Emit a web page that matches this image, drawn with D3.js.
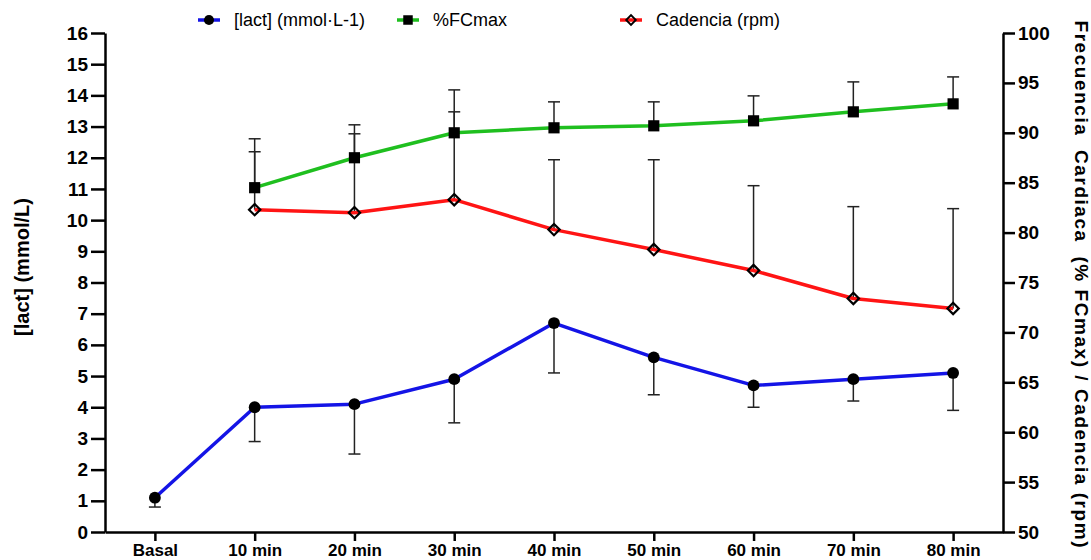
<!DOCTYPE html>
<html lang="es">
<head>
  <meta charset="UTF-8">
  <title>[lact], %FCmax y cadencia</title>
  <script src="https://cdnjs.cloudflare.com/ajax/libs/d3/7.8.5/d3.min.js"></script>
  <style>
    body { margin: 0; background: #fff; }
    svg { display: block; font-family: Arial, "Liberation Sans", sans-serif; }
    .axis path, .axis line { stroke: #000; stroke-width: 2.5; }
    .axis text { font-size: 19px; font-weight: bold; fill: #000; }
    .xaxis text { font-size: 17px; }
    .err { stroke: #222; stroke-width: 1.5; fill: none; }
  </style>
</head>
<body>
<svg id="chart" width="1091" height="560"></svg>
<script>
  // categories (time points)
  const categories = ["Basal", "10 min", "20 min", "30 min", "40 min", "50 min", "60 min", "70 min", "80 min"];

  // [lact] mmol/L, mean and SD (drawn downward)
  const lact   = [1.1, 4.0, 4.1, 4.9, 6.7, 5.6, 4.7, 4.9, 5.1];
  const lactSD = [0.3, 1.1, 1.6, 1.4, 1.6, 1.2, 0.7, 0.7, 1.2];

  // %FCmax, mean and SD (drawn upward) - right axis
  const fc   = [null, 84.5, 87.5, 90.0, 90.5, 90.7, 91.2, 92.1, 92.9];
  const fcSD = [null, 3.6, 2.4, 2.1, 2.6, 2.4, 2.5, 3.0, 2.7];

  // Cadencia (rpm), mean and SD (drawn upward) - right axis
  const cad   = [null, 82.3, 82.0, 83.3, 80.3, 78.3, 76.2, 73.4, 72.4];
  const cadSD = [null, 7.1, 8.8, 11.0, 7.0, 9.0, 8.5, 9.2, 10.0];

  const leftTicks  = d3.range(0, 17, 1);
  const rightTicks = d3.range(50, 101, 5);

  const svg = d3.select("#chart");
  const plotLeft = 105, plotRight = 1003, plotTop = 33, plotBottom = 532;

  const x = d3.scalePoint().domain(categories).range([plotLeft, plotRight]).padding(0.5);
  const yL = d3.scaleLinear().domain([0, 16]).range([plotBottom, plotTop]);
  const yR = d3.scaleLinear().domain([50, 100]).range([plotBottom, plotTop]);

  // axes
  svg.append("g").attr("class", "axis")
    .attr("transform", `translate(${plotLeft},0)`)
    .call(d3.axisLeft(yL).tickValues(leftTicks).tickSize(14).tickSizeOuter(0).tickPadding(3));
  svg.append("g").attr("class", "axis")
    .attr("transform", `translate(${plotRight},0)`)
    .call(d3.axisRight(yR).tickValues(rightTicks).tickSize(12).tickSizeOuter(0).tickPadding(3));
  svg.append("g").attr("class", "axis xaxis")
    .attr("transform", `translate(0,${plotBottom})`)
    .call(d3.axisBottom(x).tickSize(9).tickSizeOuter(0).tickPadding(3));

  // axis titles
  svg.append("text")
    .attr("transform", `translate(29,267) rotate(-90)`)
    .attr("text-anchor", "middle")
    .style("font-size", "20px").style("font-weight", "bold")
    .text("[lact] (mmol/L)");
  svg.append("text")
    .attr("transform", `translate(1075,284) rotate(90)`)
    .attr("text-anchor", "middle")
    .style("font-size", "19px").style("font-weight", "bold")
    .style("white-space", "pre")
    .attr("textLength", 527).attr("lengthAdjust", "spacing")
    .text("Frecuencia  Cardiaca  (% FCmax) / Cadencia (rpm)");

  const capW = 6;
  function errorBars(vals, sds, y, dir) {
    const g = svg.append("g");
    categories.forEach((c, i) => {
      if (vals[i] == null) return;
      const y0 = y(vals[i]), y1 = y(vals[i] + dir * sds[i]);
      g.append("line").attr("class", "err")
        .attr("x1", x(c)).attr("x2", x(c)).attr("y1", y0).attr("y2", y1);
      g.append("line").attr("class", "err")
        .attr("x1", x(c) - capW).attr("x2", x(c) + capW).attr("y1", y1).attr("y2", y1);
    });
  }
  errorBars(lact, lactSD, yL, -1);
  errorBars(fc, fcSD, yR, 1);
  errorBars(cad, cadSD, yR, 1);

  function series(vals, y, color) {
    const pts = categories.map((c, i) => [c, vals[i]]).filter(d => d[1] != null);
    svg.append("path")
      .datum(pts)
      .attr("fill", "none")
      .attr("stroke", color)
      .attr("stroke-width", 3.5)
      .attr("stroke-linejoin", "round")
      .attr("d", d3.line().x(d => x(d[0])).y(d => y(d[1])));
    return pts;
  }
  const lactPts = series(lact, yL, "#1414e6");
  const fcPts = series(fc, yR, "#1fbf1f");
  const cadPts = series(cad, yR, "#ff1414");

  const sym = {
    circle: d3.symbol().type(d3.symbolCircle).size(110),
    square: d3.symbol().type(d3.symbolSquare).size(125),
    diamond: d3.symbol().type(d3.symbolSquare).size(64)
  };
  function marker(g, shape) {
    if (shape === "diamond") {
      return g.append("path").attr("d", sym.diamond())
        .attr("transform", "rotate(45)")
        .attr("fill", "none").attr("stroke", "#000").attr("stroke-width", 2.2);
    }
    return g.append("path").attr("d", sym[shape]()).attr("fill", "#000");
  }

  [[lactPts, yL, "circle"], [fcPts, yR, "square"], [cadPts, yR, "diamond"]].forEach(([pts, y, shape]) => {
    pts.forEach(d => {
      const g = svg.append("g").attr("transform", `translate(${x(d[0])},${y(d[1])})`);
      marker(g, shape);
    });
  });

  // legend
  const legendItems = [
    { label: "[lact] (mmol\u00b7L-1)", color: "#1414e6", shape: "circle" },
    { label: "%FCmax", color: "#1fbf1f", shape: "square" },
    { label: "Cadencia (rpm)", color: "#ff1414", shape: "diamond" }
  ];
  const legendX = [198, 397, 620], legendY = 20;
  legendItems.forEach((it, i) => {
    const g = svg.append("g").attr("transform", `translate(${legendX[i]},${legendY})`);
    g.append("line").attr("x1", 0).attr("x2", 22).attr("stroke", it.color).attr("stroke-width", 3.5);
    const m = g.append("g").attr("transform", "translate(11,0) scale(0.85)");
    marker(m, it.shape);
    g.append("text").attr("x", 36).attr("y", 6)
      .style("font-size", "18px").text(it.label);
  });
</script>
</body>
</html>
